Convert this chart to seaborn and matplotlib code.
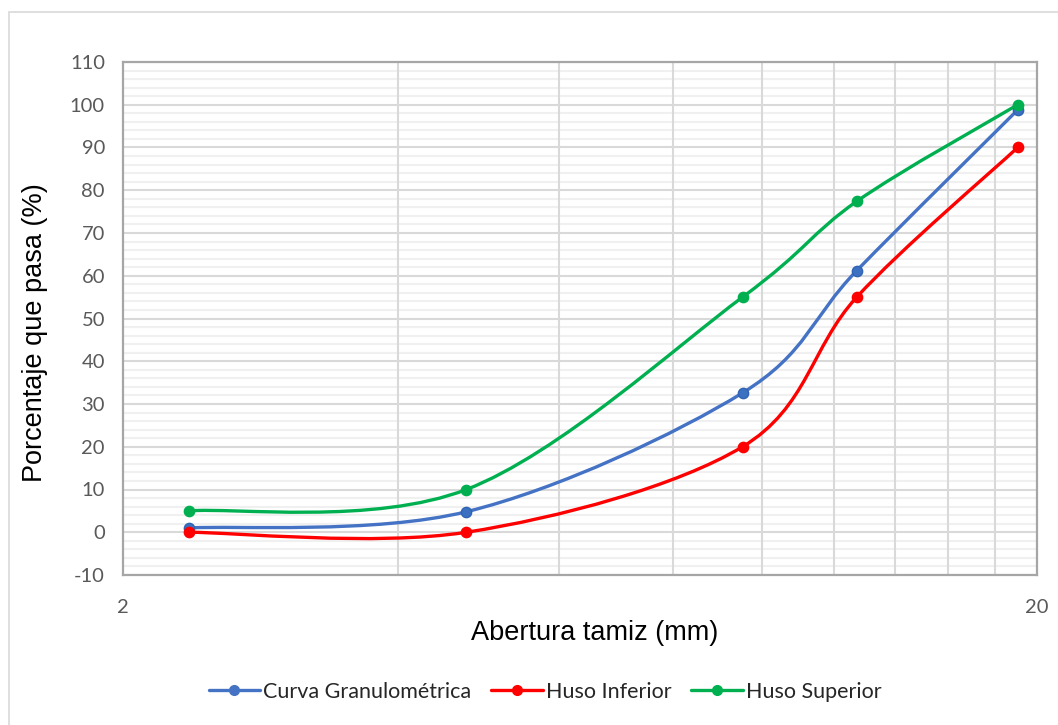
import numpy as np
import pandas as pd
import matplotlib
matplotlib.use("Agg")
import matplotlib.pyplot as plt
import seaborn as sns
from matplotlib.path import Path
from matplotlib.patches import PathPatch, Rectangle
from matplotlib.lines import Line2D
from matplotlib.ticker import FixedLocator, FixedFormatter, NullFormatter

# datos de la granulometría
abertura = [2.36, 4.75, 9.525, 12.7, 19.05]
curva = [1.0, 4.8, 32.6, 61.2, 98.8]
huso_inf = [0.0, 0.0, 20.0, 55.0, 90.0]
huso_sup = [5.0, 10.0, 55.0, 77.4, 100.0]
series = ["Curva Granulométrica", "Huso Inferior", "Huso Superior"]
colores = {"Curva Granulométrica": "#4472C4", "Huso Inferior": "#FF0000", "Huso Superior": "#00B050"}

df = pd.concat([
    pd.DataFrame({"abertura": abertura, "pasa": curva, "serie": series[0]}),
    pd.DataFrame({"abertura": abertura, "pasa": huso_inf, "serie": series[1]}),
    pd.DataFrame({"abertura": abertura, "pasa": huso_sup, "serie": series[2]}),
])

sns.set_theme(style="white")
plt.rcParams['font.family'] = ['Lato', 'DejaVu Sans']
plt.rcParams['axes.unicode_minus'] = False

fig = plt.figure(figsize=(10.58, 7.25), dpi=100)
ax = fig.add_axes([123 / 1058, 1 - 575 / 725, (1037 - 123) / 1058, (575 - 62) / 725])

# borde del área del gráfico
fig.patches.append(Rectangle((9 / 1058, -0.1), 1.2, 1 - 12 / 725 + 0.1, transform=fig.transFigure,
                             fill=False, edgecolor="#D9D9D9", linewidth=1.2))


def curva_suave(x, y):
    # trazo suavizado tipo Excel (Bezier con puntos vecinos), en espacio log-x
    lx = np.log10(x)
    p = np.column_stack([lx, y])
    verts = [p[0]]
    codes = [Path.MOVETO]
    n = len(p)
    for i in range(n - 1):
        p0 = p[i - 1] if i > 0 else p[i]
        p3 = p[i + 2] if i + 2 < n else p[i + 1]
        c1 = p[i] + (p[i + 1] - p0) / 6
        c2 = p[i + 1] - (p3 - p[i]) / 6
        verts += [c1, c2, p[i + 1]]
        codes += [Path.CURVE4] * 3
    verts = np.array(verts)
    verts[:, 0] = 10 ** verts[:, 0]
    return Path(verts, codes)


for s in series:
    d = df[df["serie"] == s]
    ax.add_patch(PathPatch(curva_suave(d["abertura"].values, d["pasa"].values),
                           facecolor="none", edgecolor=colores[s], linewidth=2.4,
                           capstyle="round", zorder=3))
    ec = "#2F64B4" if s == series[0] else colores[s]
    fc = "#3C70C0" if s == series[0] else colores[s]
    sns.scatterplot(data=d, x="abertura", y="pasa", ax=ax, color=fc, edgecolor=ec,
                    linewidth=1.0, s=55, zorder=4, legend=False)

ax.set_xscale("log")
ax.set_xlim(2, 20)
ax.set_ylim(-10, 110)
ax.xaxis.set_major_locator(FixedLocator([2, 20]))
ax.xaxis.set_minor_locator(FixedLocator(list(range(4, 20, 2))))
ax.xaxis.set_major_formatter(FixedFormatter(["2", "20"]))
ax.xaxis.set_minor_formatter(NullFormatter())
ax.set_yticks(range(-10, 111, 10))
ax.yaxis.set_minor_locator(FixedLocator([v for v in range(-10, 111, 2) if v % 10 != 0]))

ax.grid(True, which="major", axis="y", color="#D9D9D9", linewidth=1.5)
ax.grid(True, which="minor", axis="y", color="#F0F0F0", linewidth=1.5)
ax.grid(True, which="minor", axis="x", color="#D9D9D9", linewidth=1.5)
ax.set_axisbelow(True)
ax.yaxis.set_zorder(0.4)
ax.xaxis.set_zorder(0.6)
for sp in ax.spines.values():
    sp.set_color("#A6A6A6")
    sp.set_linewidth(1.6)

ax.tick_params(axis="y", which="both", length=0, labelsize=14.5, labelcolor="#595959", pad=13)
ax.tick_params(axis="x", which="both", length=0, labelsize=14.5, labelcolor="#595959", pad=17)
ax.set_xlabel("")
ax.set_ylabel("")

fig.text(595 / 1058, 1 - 633 / 725, "Abertura tamiz (mm)", ha="center", va="center",
         fontsize=19.5, family="Liberation Sans", color="black")
fig.text(35 / 1058, 1 - 333 / 725, "Porcentaje que pasa (%)", ha="center", va="center",
         rotation=90, fontsize=19.5, family="Liberation Sans", color="black")

handles = [Line2D([0], [0], color=colores[s], linewidth=2.4, marker="o", markersize=7,
                  markerfacecolor=colores[s]) for s in series]
fig.legend(handles, series, loc="center", bbox_to_anchor=(545 / 1058, 1 - 692 / 725), ncol=3,
           frameon=False, fontsize=15.5, handlelength=2.4, handletextpad=0.15, columnspacing=0.9)

fig.savefig("out.png", dpi=100, facecolor="white")
